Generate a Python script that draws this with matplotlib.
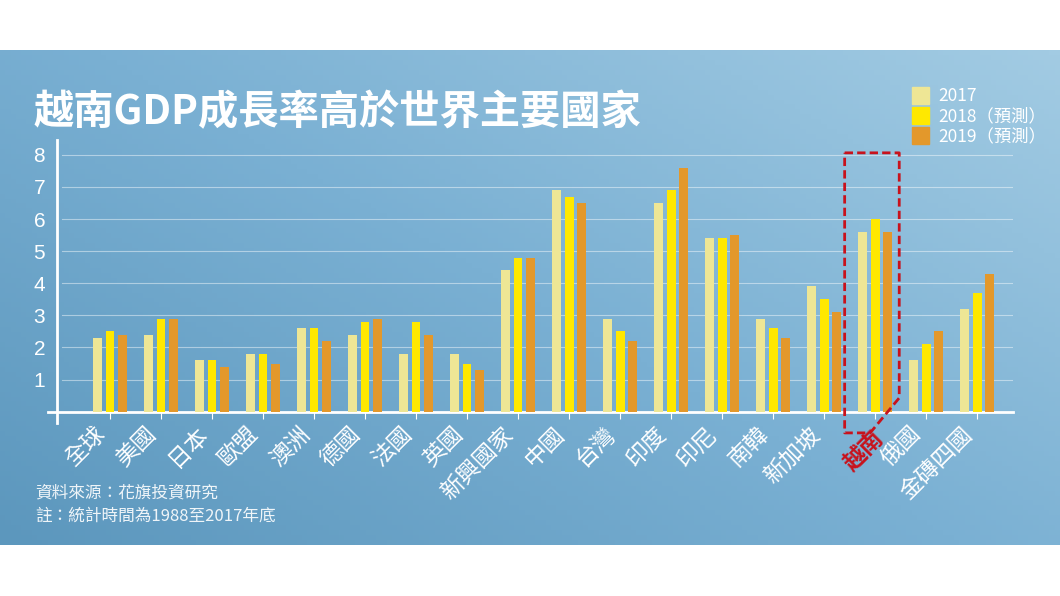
import matplotlib.pyplot as plt
import matplotlib.transforms as mtransforms
import numpy as np
from matplotlib.colors import LinearSegmentedColormap
from matplotlib.patches import Patch

plt.rcParams['font.family'] = ['Noto Sans CJK TC', 'DejaVu Sans']

categories = ['全球', '美國', '日本', '歐盟', '澳洲', '德國', '法國', '英國', '新興國家',
              '中國', '台灣', '印度', '印尼', '南韓', '新加坡', '越南', '俄國', '金磚四國']
gdp_2017 = [2.3, 2.4, 1.6, 1.8, 2.6, 2.4, 1.8, 1.8, 4.4, 6.9, 2.9, 6.5, 5.4, 2.9, 3.9, 5.6, 1.6, 3.2]
gdp_2018 = [2.5, 2.9, 1.6, 1.8, 2.6, 2.8, 2.8, 1.5, 4.8, 6.7, 2.5, 6.9, 5.4, 2.6, 3.5, 6.0, 2.1, 3.7]
gdp_2019 = [2.4, 2.9, 1.4, 1.5, 2.2, 2.9, 2.4, 1.3, 4.8, 6.5, 2.2, 7.6, 5.5, 2.3, 3.1, 5.6, 2.5, 4.3]
series_labels = ['2017', '2018（預測）', '2019（預測）']
colors = ['#eee695', '#ffe800', '#e3982b']
highlight = '越南'

W, H = 1060, 596
fig = plt.figure(figsize=(W / 100, H / 100), dpi=100)
fig.patch.set_facecolor('white')

# blue gradient panel
bg = fig.add_axes([0, 1 - 545 / H, 1, (545 - 50) / H])
bg.axis('off')
cmap = LinearSegmentedColormap.from_list('bg', ['#5c97bd', '#7ab0d3', '#a2cbe3'])
gx, gy = np.meshgrid(np.linspace(0, 1, 200), np.linspace(0, 1, 100))
bg.imshow(0.55 * gx + 0.45 * gy, cmap=cmap, aspect='auto', origin='lower', extent=[0, 1, 0, 1])
bg.set_xlim(0, 1)
bg.set_ylim(0, 1)

ax = fig.add_axes([48 / W, (H - 411.7) / H, (1013 - 48) / W, (411.7 - 140) / H])
ax.patch.set_alpha(0)
x = np.arange(len(categories))
width = 0.17
for i, (vals, c, lab) in enumerate(zip([gdp_2017, gdp_2018, gdp_2019], colors, series_labels)):
    ax.bar(x + (i - 1) * 0.245, vals, width, color=c, label=lab, zorder=3)

ax.set_xlim(-1.216, 17.7)
ax.set_ylim(0, 8.46)
for v in range(1, 9):
    ax.axhline(v, xmin=0.015, xmax=1.0, color='white', lw=0.8, alpha=0.45, zorder=1)

for s in ['top', 'right', 'left']:
    ax.spines[s].set_visible(False)
ax.spines['bottom'].set_color('white')
ax.spines['bottom'].set_linewidth(2)
# vertical axis line, running a bit below the baseline
ax.plot([-1.04, -1.04], [-0.35, 8.46], color='white', lw=2, clip_on=False, zorder=4)

ax.set_yticks(range(1, 9))
ax.set_yticklabels([str(v) for v in range(1, 9)], color='white', fontsize=15, fontfamily=['Liberation Sans'])
ax.tick_params(axis='y', length=0, pad=2)
ax.set_xticks(x)
ax.set_xticklabels(categories, rotation=45, ha='right', va='top', fontsize=16.5, color='white')
ax.tick_params(axis='x', length=5, color='white', width=0.8, pad=3)
shift = mtransforms.ScaledTranslation(14 / 100, -4 / 100, fig.dpi_scale_trans)
for t in ax.get_xticklabels():
    if t.get_text() == highlight:
        t.set_color('#c8121c')
        t.set_fontweight('bold')
        t.set_transform(t.get_transform() + shift)

# dashed red box around the highlighted country
hi = categories.index(highlight)
bx = [hi - 0.6, hi + 0.47, hi + 0.47, hi - 0.1, hi - 0.6, hi - 0.6]
by = [8.06, 8.06, 0.43, -0.66, -0.66, 8.06]
ax.plot(bx, by, color='#c8121c', lw=2, ls=(0, (3, 1.5)), clip_on=False, zorder=5)

handles = [Patch(color=c) for c in colors]
fig.legend(handles, series_labels, loc='upper left', bbox_to_anchor=(905 / W, 1 - 80 / H),
           frameon=False, fontsize=12.5, labelcolor='white', handlelength=1.0, handleheight=1.1,
           handletextpad=0.5, labelspacing=0.1, borderaxespad=0)

fig.text(33 / W, 1 - 113 / H, '越南GDP成長率高於世界主要國家', color='white', fontsize=29,
         fontweight='heavy', va='center', ha='left')
fig.text(35 / W, 1 - 493 / H, '資料來源：花旗投資研究', color='white', alpha=0.9, fontsize=12,
         va='center', ha='left')
fig.text(35 / W, 1 - 516 / H, '註：統計時間為1988至2017年底', color='white', alpha=0.9, fontsize=12,
         va='center', ha='left')

fig.savefig('out.png', dpi=100)
